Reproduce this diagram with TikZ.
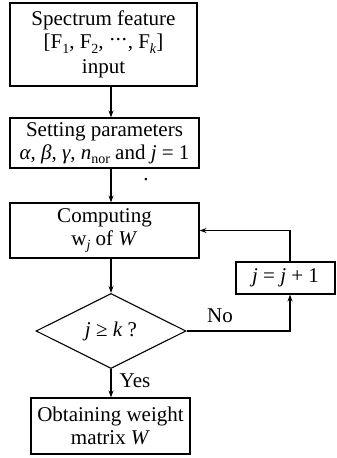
\documentclass[tikz,border=0pt]{standalone}
\usepackage{fontspec}
\setmainfont{Liberation Serif}
\usetikzlibrary{arrows.meta,shapes.geometric}
\newcommand{\mysub}[1]{\raisebox{-0.22em}{\fontsize{14}{14}\selectfont #1}}
\tikzset{
  box/.style={draw, line width=1.1pt, rectangle, align=center, inner sep=0pt, font=\fontsize{21}{23}\selectfont},
  dia/.style={draw, line width=1.1pt, diamond, aspect=2, inner sep=0pt, font=\fontsize{21}{23}\selectfont},
  arr/.style={line width=1.1pt, -{Stealth[length=7pt,width=5pt]}},
  lbl/.style={font=\fontsize{21}{23}\selectfont, inner sep=0pt}
}
\begin{document}
\begin{tikzpicture}[x=1pt,y=-1pt]
\useasboundingbox (0,0) rectangle (337,458);
\node[box, minimum width=187pt, minimum height=83pt] (b1) at (103.5,44.5)
  {Spectrum feature\\{}[F\mysub{1}, F\mysub{2}, \raisebox{0.1em}{·\kern-0.05em·\kern-0.05em·}, F\mysub{\textit{k}}]\\[2pt]input};
\node[box, minimum width=189pt, minimum height=50pt] (b2) at (104.5,143)
  {Setting parameters\\\textit{α}, \textit{β}, \textit{γ}, \textit{n}\mysub{nor} and \textit{j} = 1};
\node[lbl] (dot) at (146,180) {.};
\node[box, minimum width=189pt, minimum height=55pt] (b3) at (104.5,230.5)
  {Computing\\w\mysub{\textit{j}} of \textit{W}};
\node[dia, minimum width=150pt, minimum height=75pt] (d) at (111,331)
  {\textit{j} ≥ \textit{k} ?};
\node[box, minimum width=99pt, minimum height=32pt] (bj) at (285.5,278)
  {\textit{j} = \textit{j} + 1};
\node[box, minimum width=159pt, minimum height=56pt] (b4) at (110.5,426)
  {Obtaining weight\\matrix \textit{W}};
\node[lbl] (no) at (220,316) {No};
\node[lbl] (yes) at (135,381) {Yes};
\draw[arr] (b1.south -| d) -- (b2.north -| d);
\draw[arr] (b2.south -| d) -- (b3.north -| d);
\draw[arr] (b3.south -| d) -- (d.north);
\draw[arr] (d.south) -- (b4.north -| d);
\draw[arr] (d.east) -| ([xshift=4.5pt]bj.south);
\draw[arr] ([xshift=4.5pt]bj.north) |- (b3.east);
\end{tikzpicture}
\end{document}
